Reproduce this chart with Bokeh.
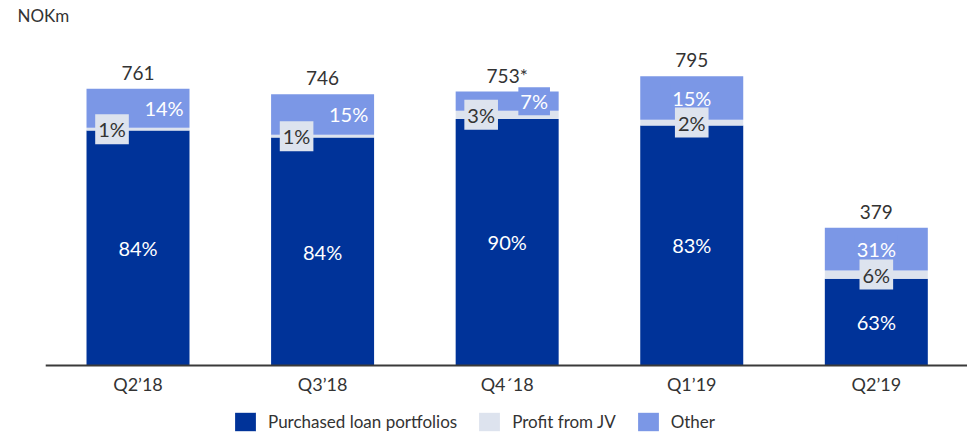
from bokeh.plotting import figure
from bokeh.models import ColumnDataSource, Legend, LegendItem, Label, Range1d
from bokeh.core.properties import value
from bokeh.embed import file_html
from bokeh.resources import INLINE

# ---- data ----
quarters = ["Q2’18", "Q3’18", "Q4´18", "Q1’19", "Q2’19"]
totals = [761, 746, 753, 795, 379]
total_labels = ["761", "746", "753*", "795", "379"]
pct_loans = [84, 84, 90, 83, 63]
pct_jv = [1, 1, 3, 2, 6]
pct_other = [14, 15, 7, 15, 31]
series = ["Purchased loan portfolios", "Profit from JV", "Other"]
unit_label = "NOKm"

# ---- styling ----
C_LOANS = "#003399"
C_JV = "#dde3ee"
C_OTHER = "#7b97e6"
TXT = "#333333"
AXIS = "#3a3a3a"
FONT = "Lato"
W, H = 967, 435

# label placement (screen px offsets) - layout only
other_dx = [26, 26, 27, 0, 0]
jv_dx = [-26, -26, -26, 0, 0]

idx = list(range(len(quarters)))
loans, jv, other = [], [], []
for t, a, b, c in zip(totals, pct_loans, pct_jv, pct_other):
    s = a + b + c
    loans.append(t * a / s)
    jv.append(t * b / s)
    other.append(t * c / s)

src = ColumnDataSource(dict(
    x=idx, q=quarters, loans=loans, jv=jv, other=other, total=totals,
    total_label=total_labels, zero=[0] * len(idx),
    loans_mid=[l / 2 for l in loans],
    jv_mid=[l + j / 2 for l, j in zip(loans, jv)],
    other_mid=[l + j + o / 2 for l, j, o in zip(loans, jv, other)],
    loans_txt=[f"{v}%" for v in pct_loans],
    jv_txt=[f"{v}%" for v in pct_jv],
    other_txt=[f"{v}%" for v in pct_other],
    other_dx=other_dx, jv_dx=jv_dx,
))

# frame fills the whole canvas; ranges chosen so the category band starts at 45px
# and the baseline sits 70px above the bottom edge
p = figure(x_range=Range1d(-0.745, 4.494), y_range=Range1d(-192.4, 1003.4),
           width=W, height=H, output_backend="svg", toolbar_location=None,
           title_location=None, x_axis_location=None, y_axis_location=None,
           min_border=0, min_border_left=0, min_border_right=0,
           min_border_top=0, min_border_bottom=0)
p.xgrid.grid_line_color = None
p.ygrid.grid_line_color = None
p.outline_line_color = None

rs = p.vbar_stack(["loans", "jv", "other"], x="x", width=0.558,
                  color=[C_LOANS, C_JV, C_OTHER], line_color=None, source=src)

# category axis line and labels
p.segment(x0=[-0.5], y0=[0], x1=[len(idx) - 0.5], y1=[0], line_color=AXIS, line_width=2)
p.text(x="x", y="zero", text="q", source=src, y_offset=18, text_color=TXT,
       text_align="center", text_baseline="middle", text_font=value(FONT),
       text_font_size="18px")

# in-bar labels
p.text(x="x", y="loans_mid", text="loans_txt", source=src, text_color="white",
       text_align="center", text_baseline="middle", text_font=value(FONT),
       text_font_size="20px")
p.text(x="x", y="other_mid", text="other_txt", x_offset="other_dx", source=src,
       text_color="white", text_align="center", text_baseline="middle",
       text_font=value(FONT), text_font_size="20px",
       background_fill_color=C_OTHER, padding=2)
p.text(x="x", y="jv_mid", text="jv_txt", x_offset="jv_dx", source=src,
       text_color=TXT, text_align="center", text_baseline="middle",
       text_font=value(FONT), text_font_size="20px",
       background_fill_color=C_JV, padding=3)
# totals
p.text(x="x", y="total", text="total_label", source=src, y_offset=-16,
       text_color=TXT, text_align="center", text_baseline="middle",
       text_font=value(FONT), text_font_size="19px")

p.add_layout(Label(x=17, y=H - 15, x_units="screen", y_units="screen",
                   text=unit_label, text_font=FONT, text_font_size="17px",
                   text_color=TXT, text_baseline="middle"))

legend = Legend(items=[LegendItem(label=s, renderers=[r]) for s, r in zip(series, rs)],
                orientation="horizontal", location=(232, 2),
                glyph_width=26, glyph_height=23, label_standoff=10, spacing=19,
                label_text_font=FONT, label_text_font_size="17px",
                label_text_color=TXT, border_line_color=None,
                background_fill_alpha=0, padding=0, margin=0)
p.add_layout(legend, "center")

open("out.html", "w").write(file_html(p, INLINE))
